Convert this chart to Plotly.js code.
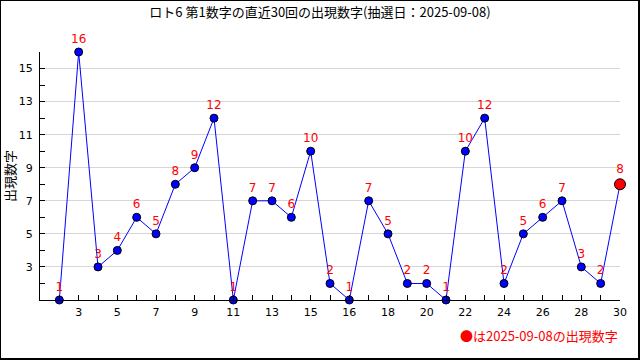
<!DOCTYPE html>
<html>
<head>
<meta charset="utf-8">
<script src="https://cdn.plot.ly/plotly-3.0.1.min.js"></script>
<style>
html,body{margin:0;padding:0;background:#fff;}
#wrap{position:relative;width:640px;height:360px;}
#chart{width:640px;height:360px;}
#frame{position:absolute;left:0;top:0;width:637px;height:357px;border-left:1px solid #000;border-top:1px solid #000;border-right:2px solid #000;border-bottom:2px solid #000;pointer-events:none;}
</style>
</head>
<body>
<div id="wrap"><div id="chart"></div><div id="frame"></div></div>
<script>
// Draw index (1 = oldest, 30 = latest draw)
const drawIndex = [1,2,3,4,5,6,7,8,9,10,11,12,13,14,15,16,17,18,19,20,21,22,23,24,25,26,27,28,29,30];
// First number drawn in each of the last 30 draws
const firstNumbers = [1,16,3,4,6,5,8,9,12,1,7,7,6,10,2,1,7,5,2,2,1,10,12,2,5,6,7,3,2,8];
// X tick labels as printed in the reference (one for every second draw)
const xTickLabelPositions = [2,4,6,8,10,12,14,16,18,20,22,24,26,28,30];
const xTickLabels = ["3","5","7","9","11","13","15","16","18","20","22","24","26","28","30"];
// Y ticks
const yTickValues = [3,5,7,9,11,13,15];
const yMinorTickValues = [2,4,6,8,10,12,14,16];

const chartTitle = "ロト6 第1数字の直近30回の出現数字(抽選日：2025-09-08)";
const yTitle = "出現数字";
const noteText = "●は2025-09-08の出現数字";

const n = firstNumbers.length;
const markerColors = firstNumbers.map((v,i)=> i===n-1 ? '#ff0000' : '#0000ff');
const markerSizes = firstNumbers.map((v,i)=> i===n-1 ? 11 : 8);

const jp = '"Noto Sans CJK JP", "DejaVu Sans", sans-serif';
const num = '"DejaVu Sans", "Liberation Sans", sans-serif';

const trace = {
  x: drawIndex,
  y: firstNumbers,
  type: 'scatter',
  mode: 'lines+markers+text',
  line: {color: '#0000ff', width: 1},
  marker: {color: markerColors, size: markerSizes, opacity: 1, line: {color: '#000000', width: 1}},
  text: firstNumbers.map(String),
  textposition: 'top center',
  textfont: {color: '#ff0000', size: 12, family: num},
  cliponaxis: false,
  hoverinfo: 'x+y'
};

const layout = {
  width: 640, height: 360,
  margin: {l: 40, r: 20, t: 52, b: 60, pad: 0},
  paper_bgcolor: '#ffffff', plot_bgcolor: '#ffffff',
  showlegend: false,
  title: {text: chartTitle, font: {family: jp, size: 13, color: '#000'}, xref: 'container', x: 0.5, xanchor: 'center', yref: 'container', y: 1 - 12/360, yanchor: 'middle'},
  xaxis: {
    range: [0, 30], showgrid: false, zeroline: false,
    showline: true, linecolor: '#000', linewidth: 1,
    ticks: 'inside', ticklen: 5, tickcolor: '#000',
    tickmode: 'array', tickvals: xTickLabelPositions, ticktext: xTickLabels,
    tickfont: {family: num, size: 11, color: '#000'},
    ticklabelstandoff: 2,
    minor: {tickmode: 'array', tickvals: drawIndex.filter(v => !xTickLabelPositions.includes(v)), ticks: 'inside', ticklen: 5, tickcolor: '#000', showgrid: false}
  },
  yaxis: {
    range: [1, 16], zeroline: false,
    showgrid: true, gridcolor: '#d6d6d6', gridwidth: 1,
    showline: true, linecolor: '#000', linewidth: 1,
    ticks: 'inside', ticklen: 5, tickcolor: '#000',
    tickmode: 'array', tickvals: yTickValues,
    tickfont: {family: num, size: 11, color: '#000'},
    ticklabelstandoff: 4,
    minor: {tickmode: 'array', tickvals: yMinorTickValues, ticks: 'inside', ticklen: 5, tickcolor: '#000', showgrid: false},
    title: {text: yTitle, font: {family: jp, size: 13, color: '#000'}, standoff: 8}
  },
  annotations: [{
    text: noteText, xref: 'paper', yref: 'paper', x: 1, y: (300-335)/248,
    xanchor: 'right', yanchor: 'middle', showarrow: false,
    font: {family: jp, size: 13, color: '#ff0000'}
  }]
};

Plotly.newPlot('chart', [trace], layout, {displayModeBar: false, staticPlot: true});
</script>
</body>
</html>
